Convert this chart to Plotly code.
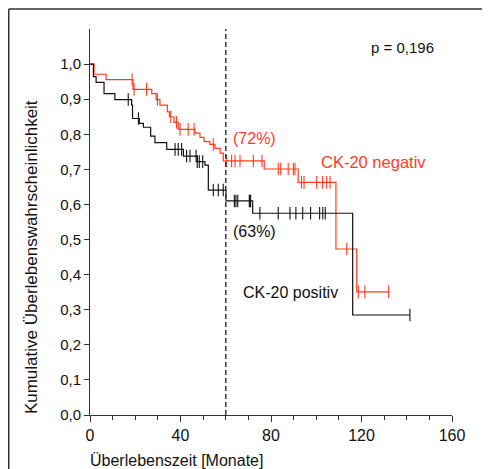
import plotly.graph_objects as go
import numpy as np

# CK-20 negativ (red): step times and survival levels
neg_times = [0, 1.8, 7.1, 19.0, 27.3, 29.2, 30.9, 34.2, 35.1, 37.1, 39.0, 46.4, 48.6, 50.4, 53.0, 55.2, 57.5, 58.9, 77.0, 92.0, 108.7, 117.9]
neg_surv = [1.0, 0.971, 0.956, 0.928, 0.916, 0.899, 0.883, 0.864, 0.850, 0.834, 0.814, 0.803, 0.791, 0.779, 0.771, 0.760, 0.746, 0.724, 0.701, 0.663, 0.473, 0.351]
neg_end = 132.0
neg_censor = [18.6, 19.5, 25.0, 29.8, 35.7, 38.2, 39.8, 43.4, 46.0, 54.5, 60.4, 62.6, 64.1, 66.3, 72.2, 76.0,
              83.2, 84.3, 87.6, 89.9, 90.6, 93.5, 94.6, 100.2, 102.8, 104.6, 106.1, 113.5, 118.6, 121.5, 132.0]

# CK-20 positiv (black)
pos_times = [0, 1.5, 2.7, 6.2, 11.0, 18.4, 18.8, 21.8, 23.6, 26.8, 28.7, 33.9, 41.3, 47.4, 50.8, 52.3, 60.1, 71.9, 116.1]
pos_surv = [1.0, 0.964, 0.948, 0.916, 0.899, 0.883, 0.845, 0.831, 0.820, 0.795, 0.776, 0.757, 0.738, 0.722, 0.712, 0.641, 0.610, 0.575, 0.285]
pos_end = 141.4
pos_censor = [16.9, 21.4, 37.6, 39.0, 40.5, 42.7, 44.2, 46.9, 47.4, 48.3, 49.8, 54.5, 56.7, 58.9,
              63.8, 64.5, 65.3, 70.4, 70.7, 71.0, 75.1, 83.2, 88.4, 91.0, 94.0, 97.5, 101.5, 102.9, 104.0, 141.4]

y_ticks = [0.0, 0.1, 0.2, 0.3, 0.4, 0.5, 0.6, 0.7, 0.8, 0.9, 1.0]
y_ticklabels = ["0,0", "0,1", "0,2", "0,3", "0,4", "0,5", "0,6", "0,7", "0,8", "0,9", "1,0"]
x_ticks = [0, 40, 80, 120, 160]

RED = "#ff3b1f"
BLACK = "#111111"
FONT = "Liberation Sans, Arial, sans-serif"


def step_at(times, surv, t):
    idx = np.searchsorted(np.array(times), t, side="right") - 1
    return surv[max(idx, 0)]


fig = go.Figure()

for times, surv, end, cens, col in [
    (neg_times, neg_surv, neg_end, neg_censor, RED),
    (pos_times, pos_surv, pos_end, pos_censor, BLACK),
]:
    xs = list(times) + [end]
    ys = list(surv) + [surv[-1]]
    fig.add_trace(go.Scatter(x=xs, y=ys, mode="lines", line=dict(color=col, width=1.2, shape="hv"),
                             showlegend=False, hoverinfo="skip"))
    cy = [step_at(times, surv, c) for c in cens]
    fig.add_trace(go.Scatter(x=cens, y=cy, mode="markers",
                             marker=dict(symbol="line-ns", size=9, line=dict(color=col, width=1.1)),
                             showlegend=False, hoverinfo="skip"))

# dashed reference at 60 months
fig.add_shape(type="line", x0=60, x1=60, y0=0, y1=1.1, xref="x", yref="y",
              line=dict(color="#333333", width=1.5, dash="5px,3px"))

# outer frame (left and top edges)
fig.add_shape(type="line", xref="paper", yref="paper", x0=-0.2245, x1=1.2, y0=1.0518, y1=1.0518,
              line=dict(color="#333333", width=1.5))
fig.add_shape(type="line", xref="paper", yref="paper", x0=-0.2245, x1=-0.2245, y0=-0.2, y1=1.0518,
              line=dict(color="#333333", width=1.5))

annots = [
    dict(x=137.9, y=1.046, text="p = 0,196", color="#111111", size=15),
    dict(x=72.9, y=0.789, text="(72%)", color=RED, size=16),
    dict(x=72.9, y=0.524, text="(63%)", color="#111111", size=16),
    dict(x=125.5, y=0.721, text="CK-20 negativ", color=RED, size=16.5),
    dict(x=88.8, y=0.348, text="CK-20 positiv", color="#111111", size=16),
]
for a in annots:
    fig.add_annotation(x=a["x"], y=a["y"], xref="x", yref="y", text=a["text"], showarrow=False,
                       font=dict(family=FONT, size=a["size"], color=a["color"]),
                       xanchor="center", yanchor="middle")

fig.add_annotation(x=-0.0055, y=-0.1166, xref="paper", yref="paper", text="Überlebenszeit [Monate]",
                   showarrow=False, xanchor="left", yanchor="middle",
                   font=dict(family=FONT, size=16, color="#111111"))
fig.add_annotation(x=-0.163, y=0.409, xref="paper", yref="paper",
                   text="Kumulative Überlebenswahrscheinlichkeit", textangle=-90,
                   showarrow=False, xanchor="center", yanchor="middle",
                   font=dict(family=FONT, size=17, color="#111111"))

# page body has an 8px margin, so the figure is sized/offset to compensate
fig.update_layout(
    width=482, height=461,
    margin=dict(l=82, r=38, t=21, b=54),
    paper_bgcolor="white", plot_bgcolor="white",
    font=dict(family=FONT, size=15, color="#111111"),
    showlegend=False,
)
fig.update_xaxes(range=[0, 160], tickvals=x_ticks, ticks="outside", ticklen=6, tickcolor="#333333",
                 showline=True, linecolor="#333333", linewidth=1, showgrid=False, zeroline=False,
                 minor=dict(dtick=10, ticks="outside", ticklen=4, tickcolor="#333333", showgrid=False),
                 tickfont=dict(size=16))
fig.update_yaxes(range=[0, 1.1], tickvals=y_ticks, ticktext=y_ticklabels, ticks="outside", ticklen=5,
                 tickcolor="#333333", showline=True, linecolor="#333333", linewidth=1, showgrid=False,
                 zeroline=False, tickfont=dict(size=15))

fig.write_html("out.html")
